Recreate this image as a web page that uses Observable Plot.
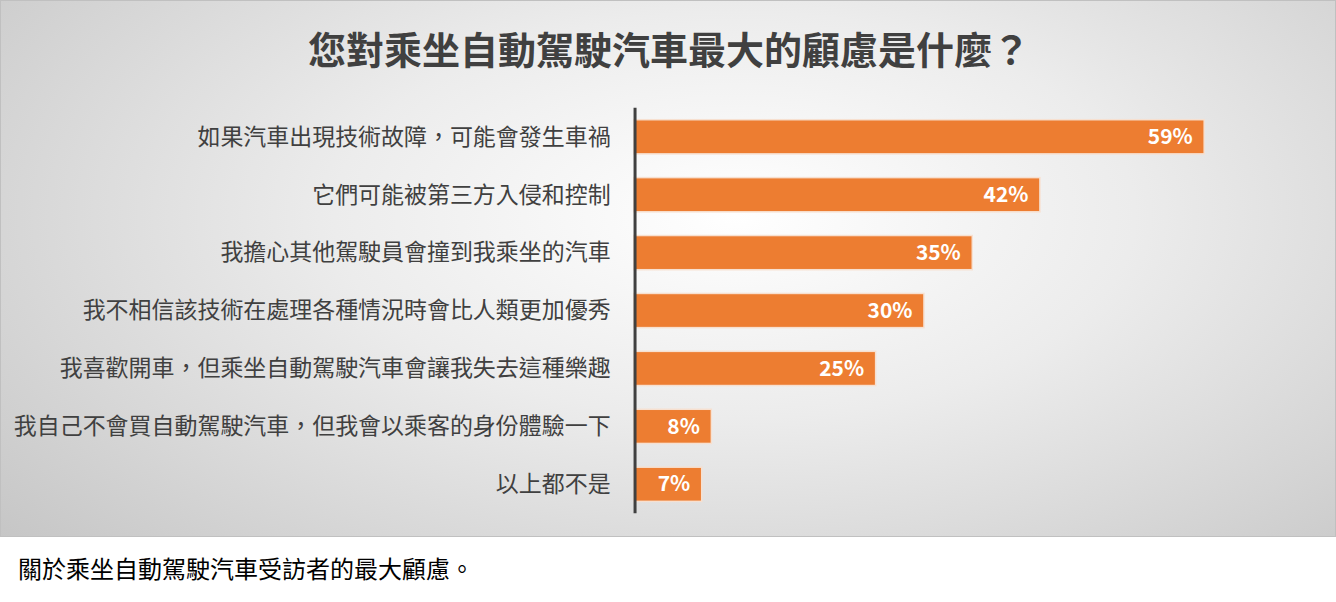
<!DOCTYPE html>
<html>
<head>
<meta charset="utf-8">
<script src="https://cdn.jsdelivr.net/npm/d3@7"></script>
<script src="https://cdn.jsdelivr.net/npm/@observablehq/plot@0.6"></script>
<style>
  body { margin: 0; background: #fff; font-family: "Noto Sans CJK TC", "Noto Sans", sans-serif; }
  #box { position: relative; width: 1334px; height: 535px; border: 1px solid #c0c0c0;
         background: radial-gradient(ellipse 75% 95% at 55% 40%, #ffffff 0%, #ececec 40%, #c4c4c4 100%); overflow: hidden; }
  #title { position: absolute; left: 0; width: 1336px; top: 22px; text-align: center; font-size: 38px; font-weight: bold; color: #404040; line-height: 50px; }
  #chart { position: absolute; left: 0; top: 0; }
  #caption { margin: 15px 0 0 18px; font-size: 24px; color: #000; line-height: 32px; }
</style>
</head>
<body>
<div id="box">
  <div id="title">您對乘坐自動駕駛汽車最大的顧慮是什麼？</div>
  <div id="chart"></div>
</div>
<div id="caption">關於乘坐自動駕駛汽車受訪者的最大顧慮。</div>
<script>
const categories = [
  "如果汽車出現技術故障，可能會發生車禍",
  "它們可能被第三方入侵和控制",
  "我擔心其他駕駛員會撞到我乘坐的汽車",
  "我不相信該技術在處理各種情況時會比人類更加優秀",
  "我喜歡開車，但乘坐自動駕駛汽車會讓我失去這種樂趣",
  "我自己不會買自動駕駛汽車，但我會以乘客的身份體驗一下",
  "以上都不是"
];
const values = [59, 42, 35, 30, 25, 8, 7];
const data = categories.map((c, i) => ({category: c, value: values[i]}));

const chart = Plot.plot({
  width: 1336,
  height: 537,
  marginLeft: 634,
  marginRight: 131,
  marginTop: 107,
  marginBottom: 24,
  style: {background: "transparent", color: "#404040", fontFamily: "'Noto Sans CJK TC', sans-serif"},
  x: {domain: [0, 59], axis: null},
  y: {domain: categories, paddingInner: 0.41, paddingOuter: 0.205, round: false, label: null},
  marks: [
    Plot.barX(data, {x: "value", y: "category", fill: "#ED7D31", stroke: "#f7e0d0", strokeWidth: 1.5}),
    Plot.text(data, {x: "value", y: "category", text: d => d.value + "%", textAnchor: "end", dx: -12,
                     fill: "#ffffff", fontWeight: "bold", fontSize: 21}),
    Plot.ruleX([0], {stroke: "#404040", strokeWidth: 3, dx: 0.5}),
    Plot.axisY({tickSize: 0, tickPadding: 24, fontSize: 23, label: null, fill: "#404040"})
  ]
});
document.getElementById("chart").appendChild(chart);
</script>
</body>
</html>
